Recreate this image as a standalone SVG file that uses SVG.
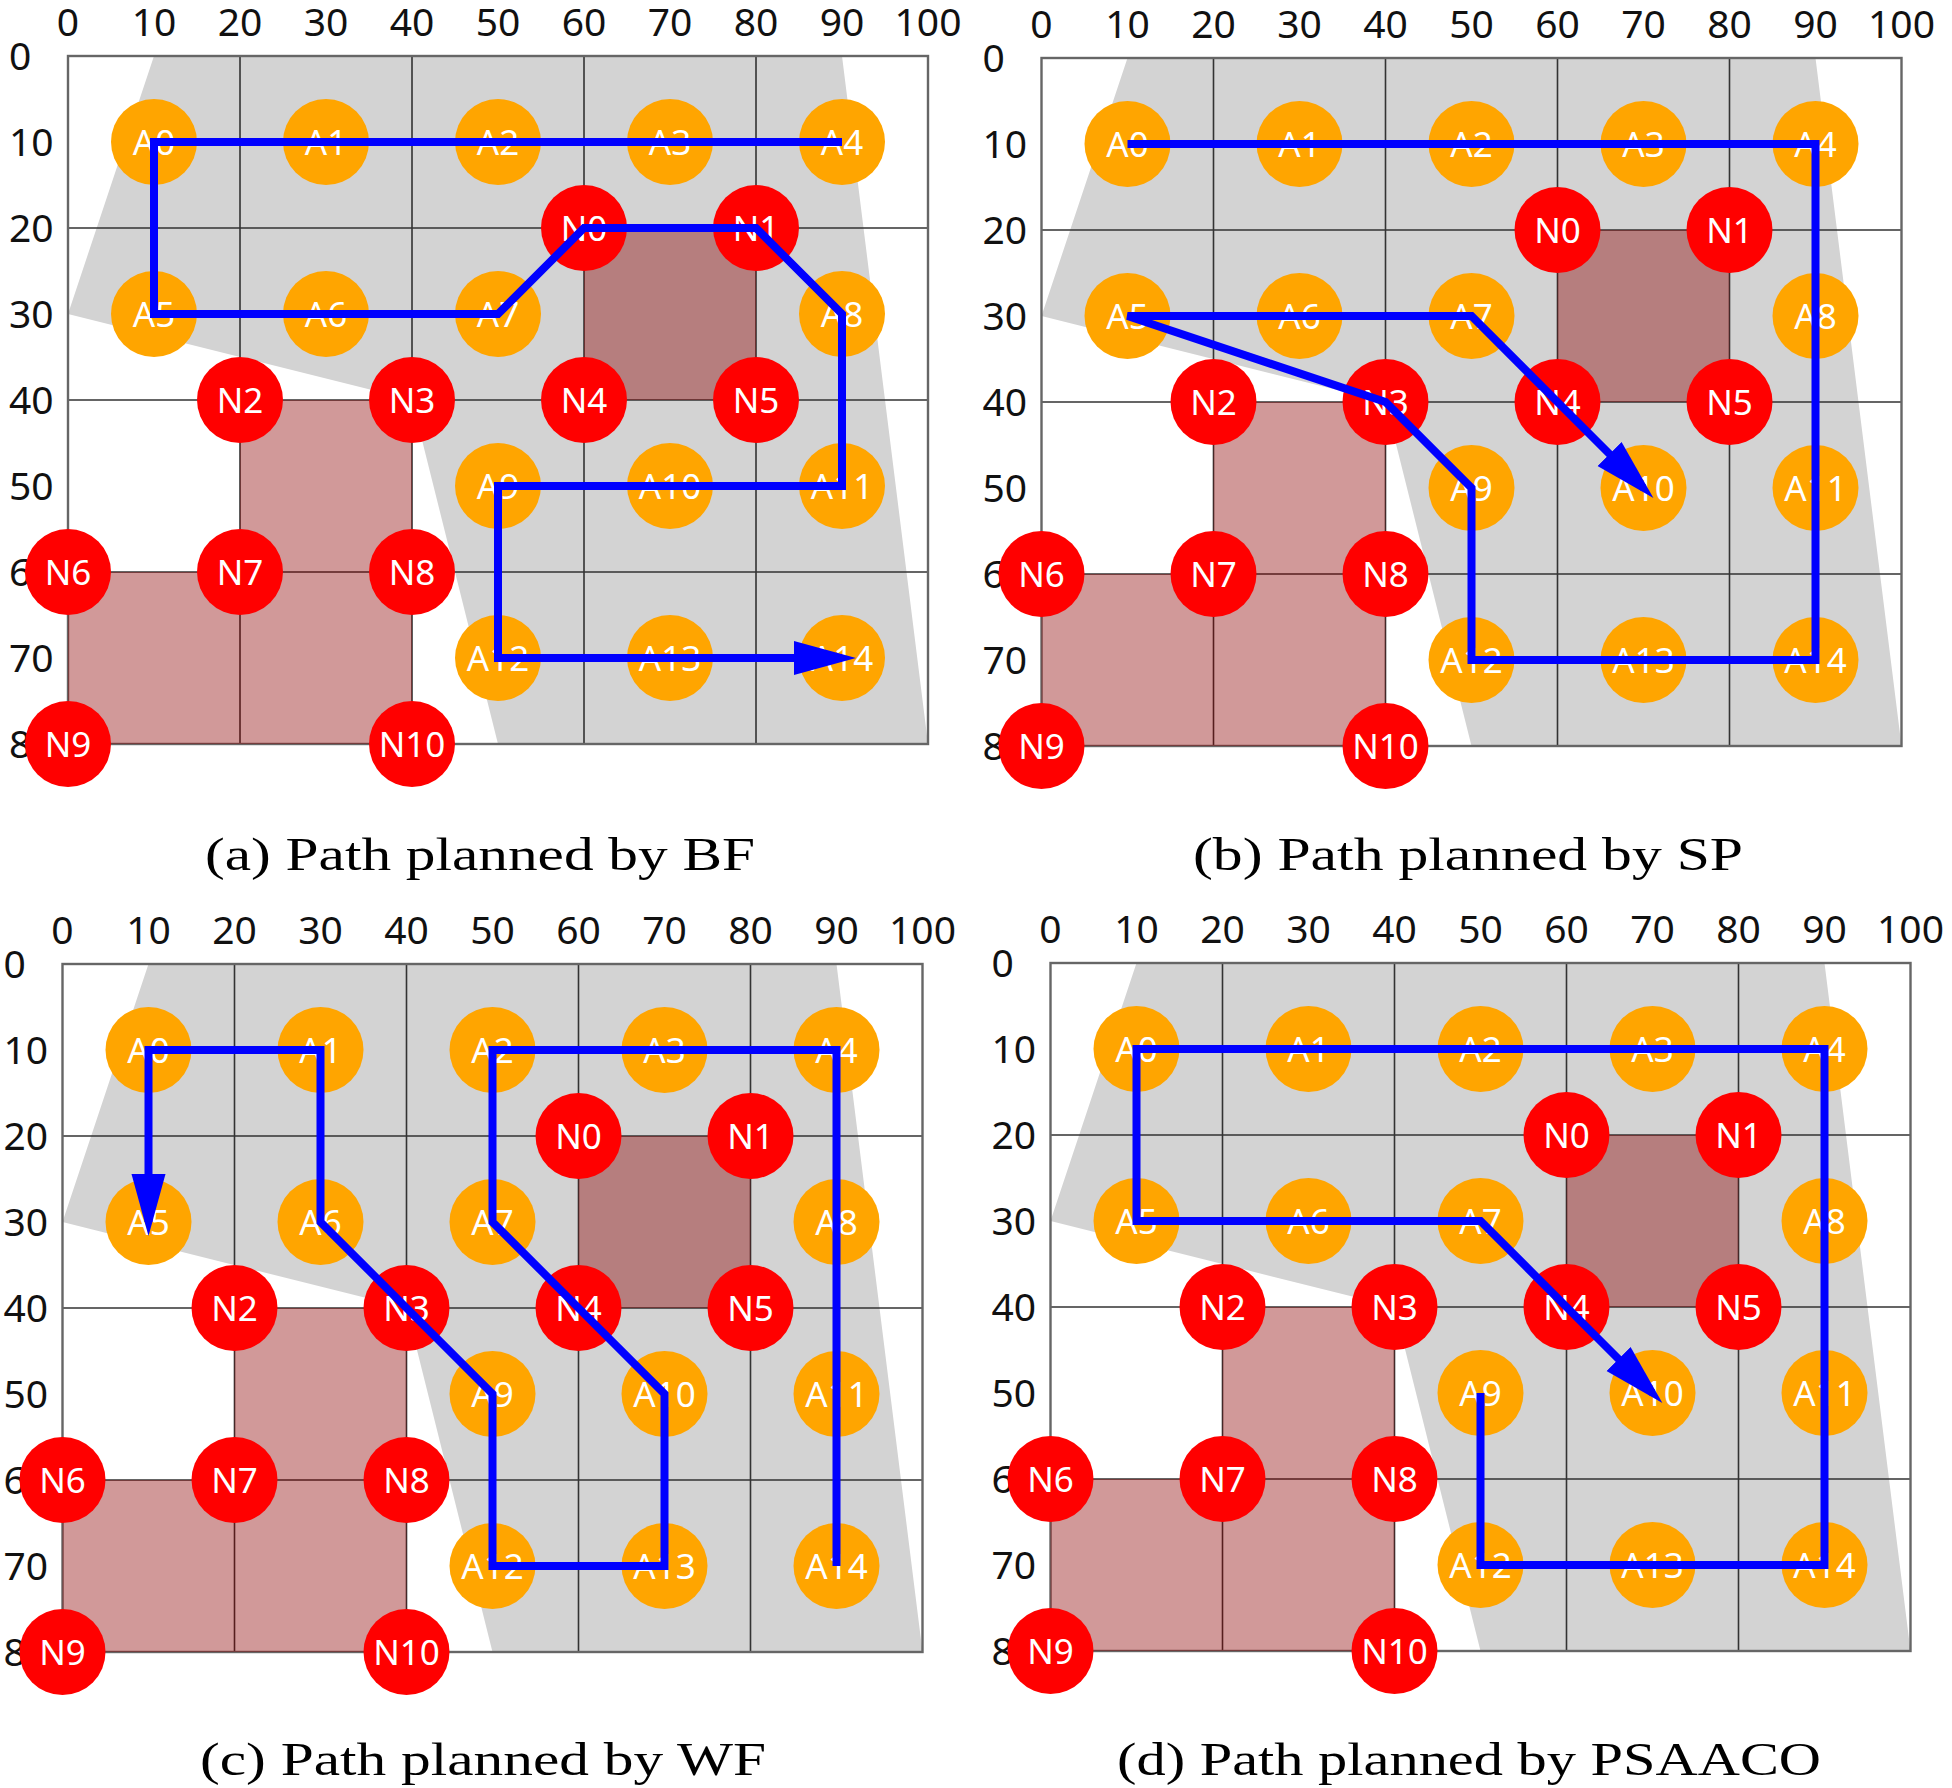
<svg xmlns="http://www.w3.org/2000/svg" width="1952" height="1788" viewBox="0 0 1952 1788">
<style>
.fov{fill:#d3d3d3}
.gl{stroke:#333;stroke-width:1.6;fill:none}
.bd{stroke:#666;stroke-width:2.4;fill:none}
.ob{fill:#8b0000;fill-opacity:0.4}
.tk{font-family:"Noto Sans","Open Sans","DejaVu Sans",sans-serif;font-size:39px;fill:#111}
.tx{text-anchor:middle}
.nd text{font-family:"Noto Sans","Open Sans","DejaVu Sans",sans-serif;font-size:35px;fill:#fff;text-anchor:middle}
.a circle{fill:#ffa500}
.n circle{fill:#ff0000}
.path{fill:none;stroke:#0000ff;stroke-width:8;stroke-linejoin:miter;marker-end:url(#ah)}
.cap{font-family:"Liberation Serif","Times New Roman",serif;font-size:47px;fill:#000}
</style>
<defs>
<marker id="ah" markerUnits="userSpaceOnUse" markerWidth="64" markerHeight="36" refX="48" refY="17" orient="auto"><path d="M0,0 L62,17 L0,34 Z" fill="#0000ff"/></marker>
<g id="bg">
<polygon class="fov" points="86,0 774,0 860,688 430,688 344,344 0,258"/>
<path class="gl" d="M172,0V688M344,0V688M516,0V688M688,0V688M0,172H860M0,344H860M0,516H860"/>
<rect class="bd" x="0" y="0" width="860" height="688"/>
<rect class="ob" x="516" y="172" width="172" height="172"/>
<rect class="ob" x="172" y="344" width="172" height="172"/>
<rect class="ob" x="0" y="516" width="344" height="172"/>
</g>
</defs>

<g id="panel-a" transform="translate(68,56)">
<use href="#bg"/>
<g class="tk tx"><text x="0" y="-20">0</text><text x="86" y="-20">10</text><text x="172" y="-20">20</text><text x="258" y="-20">30</text><text x="344" y="-20">40</text><text x="430" y="-20">50</text><text x="516" y="-20">60</text><text x="602" y="-20">70</text><text x="688" y="-20">80</text><text x="774" y="-20">90</text><text x="860" y="-20">100</text></g>
<g class="tk"><text x="-59" y="14">0</text><text x="-59" y="100">10</text><text x="-59" y="186">20</text><text x="-59" y="272">30</text><text x="-59" y="358">40</text><text x="-59" y="444">50</text><text x="-59" y="530">60</text><text x="-59" y="616">70</text><text x="-59" y="702">80</text></g>
<g id="a-nodes">
<g id="a-A0" class="nd a"><circle cx="86" cy="86" r="43"/><text x="86" y="99">A0</text></g>
<g id="a-A1" class="nd a"><circle cx="258" cy="86" r="43"/><text x="258" y="99">A1</text></g>
<g id="a-A2" class="nd a"><circle cx="430" cy="86" r="43"/><text x="430" y="99">A2</text></g>
<g id="a-A3" class="nd a"><circle cx="602" cy="86" r="43"/><text x="602" y="99">A3</text></g>
<g id="a-A4" class="nd a"><circle cx="774" cy="86" r="43"/><text x="774" y="99">A4</text></g>
<g id="a-A5" class="nd a"><circle cx="86" cy="258" r="43"/><text x="86" y="271">A5</text></g>
<g id="a-A6" class="nd a"><circle cx="258" cy="258" r="43"/><text x="258" y="271">A6</text></g>
<g id="a-A7" class="nd a"><circle cx="430" cy="258" r="43"/><text x="430" y="271">A7</text></g>
<g id="a-A8" class="nd a"><circle cx="774" cy="258" r="43"/><text x="774" y="271">A8</text></g>
<g id="a-A9" class="nd a"><circle cx="430" cy="430" r="43"/><text x="430" y="443">A9</text></g>
<g id="a-A10" class="nd a"><circle cx="602" cy="430" r="43"/><text x="602" y="443">A10</text></g>
<g id="a-A11" class="nd a"><circle cx="774" cy="430" r="43"/><text x="774" y="443">A11</text></g>
<g id="a-A12" class="nd a"><circle cx="430" cy="602" r="43"/><text x="430" y="615">A12</text></g>
<g id="a-A13" class="nd a"><circle cx="602" cy="602" r="43"/><text x="602" y="615">A13</text></g>
<g id="a-A14" class="nd a"><circle cx="774" cy="602" r="43"/><text x="774" y="615">A14</text></g>
<g id="a-N0" class="nd n"><circle cx="516" cy="172" r="43"/><text x="516" y="185">N0</text></g>
<g id="a-N1" class="nd n"><circle cx="688" cy="172" r="43"/><text x="688" y="185">N1</text></g>
<g id="a-N2" class="nd n"><circle cx="172" cy="344" r="43"/><text x="172" y="357">N2</text></g>
<g id="a-N3" class="nd n"><circle cx="344" cy="344" r="43"/><text x="344" y="357">N3</text></g>
<g id="a-N4" class="nd n"><circle cx="516" cy="344" r="43"/><text x="516" y="357">N4</text></g>
<g id="a-N5" class="nd n"><circle cx="688" cy="344" r="43"/><text x="688" y="357">N5</text></g>
<g id="a-N6" class="nd n"><circle cx="0" cy="516" r="43"/><text x="0" y="529">N6</text></g>
<g id="a-N7" class="nd n"><circle cx="172" cy="516" r="43"/><text x="172" y="529">N7</text></g>
<g id="a-N8" class="nd n"><circle cx="344" cy="516" r="43"/><text x="344" y="529">N8</text></g>
<g id="a-N9" class="nd n"><circle cx="0" cy="688" r="43"/><text x="0" y="701">N9</text></g>
<g id="a-N10" class="nd n"><circle cx="344" cy="688" r="43"/><text x="344" y="701">N10</text></g>
</g>
<g id="a-connectors"><polyline class="path" points="774,86 86,86 86,258 430,258 516,172 688,172 774,258 774,430 430,430 430,602 774,602"/></g>
</g>
<text class="cap" x="205" y="870" textLength="550" lengthAdjust="spacingAndGlyphs">(a) Path planned by BF</text>

<g id="panel-b" transform="translate(1041.5,58)">
<use href="#bg"/>
<g class="tk tx"><text x="0" y="-20">0</text><text x="86" y="-20">10</text><text x="172" y="-20">20</text><text x="258" y="-20">30</text><text x="344" y="-20">40</text><text x="430" y="-20">50</text><text x="516" y="-20">60</text><text x="602" y="-20">70</text><text x="688" y="-20">80</text><text x="774" y="-20">90</text><text x="860" y="-20">100</text></g>
<g class="tk"><text x="-59" y="14">0</text><text x="-59" y="100">10</text><text x="-59" y="186">20</text><text x="-59" y="272">30</text><text x="-59" y="358">40</text><text x="-59" y="444">50</text><text x="-59" y="530">60</text><text x="-59" y="616">70</text><text x="-59" y="702">80</text></g>
<g id="b-nodes">
<g id="b-A0" class="nd a"><circle cx="86" cy="86" r="43"/><text x="86" y="99">A0</text></g>
<g id="b-A1" class="nd a"><circle cx="258" cy="86" r="43"/><text x="258" y="99">A1</text></g>
<g id="b-A2" class="nd a"><circle cx="430" cy="86" r="43"/><text x="430" y="99">A2</text></g>
<g id="b-A3" class="nd a"><circle cx="602" cy="86" r="43"/><text x="602" y="99">A3</text></g>
<g id="b-A4" class="nd a"><circle cx="774" cy="86" r="43"/><text x="774" y="99">A4</text></g>
<g id="b-A5" class="nd a"><circle cx="86" cy="258" r="43"/><text x="86" y="271">A5</text></g>
<g id="b-A6" class="nd a"><circle cx="258" cy="258" r="43"/><text x="258" y="271">A6</text></g>
<g id="b-A7" class="nd a"><circle cx="430" cy="258" r="43"/><text x="430" y="271">A7</text></g>
<g id="b-A8" class="nd a"><circle cx="774" cy="258" r="43"/><text x="774" y="271">A8</text></g>
<g id="b-A9" class="nd a"><circle cx="430" cy="430" r="43"/><text x="430" y="443">A9</text></g>
<g id="b-A10" class="nd a"><circle cx="602" cy="430" r="43"/><text x="602" y="443">A10</text></g>
<g id="b-A11" class="nd a"><circle cx="774" cy="430" r="43"/><text x="774" y="443">A11</text></g>
<g id="b-A12" class="nd a"><circle cx="430" cy="602" r="43"/><text x="430" y="615">A12</text></g>
<g id="b-A13" class="nd a"><circle cx="602" cy="602" r="43"/><text x="602" y="615">A13</text></g>
<g id="b-A14" class="nd a"><circle cx="774" cy="602" r="43"/><text x="774" y="615">A14</text></g>
<g id="b-N0" class="nd n"><circle cx="516" cy="172" r="43"/><text x="516" y="185">N0</text></g>
<g id="b-N1" class="nd n"><circle cx="688" cy="172" r="43"/><text x="688" y="185">N1</text></g>
<g id="b-N2" class="nd n"><circle cx="172" cy="344" r="43"/><text x="172" y="357">N2</text></g>
<g id="b-N3" class="nd n"><circle cx="344" cy="344" r="43"/><text x="344" y="357">N3</text></g>
<g id="b-N4" class="nd n"><circle cx="516" cy="344" r="43"/><text x="516" y="357">N4</text></g>
<g id="b-N5" class="nd n"><circle cx="688" cy="344" r="43"/><text x="688" y="357">N5</text></g>
<g id="b-N6" class="nd n"><circle cx="0" cy="516" r="43"/><text x="0" y="529">N6</text></g>
<g id="b-N7" class="nd n"><circle cx="172" cy="516" r="43"/><text x="172" y="529">N7</text></g>
<g id="b-N8" class="nd n"><circle cx="344" cy="516" r="43"/><text x="344" y="529">N8</text></g>
<g id="b-N9" class="nd n"><circle cx="0" cy="688" r="43"/><text x="0" y="701">N9</text></g>
<g id="b-N10" class="nd n"><circle cx="344" cy="688" r="43"/><text x="344" y="701">N10</text></g>
</g>
<g id="b-connectors"><polyline class="path" points="86,86 774,86 774,602 430,602 430,430 344,344 86,258 430,258 516,344 602,430"/></g>
</g>
<text class="cap" x="1193" y="870" textLength="550" lengthAdjust="spacingAndGlyphs">(b) Path planned by SP</text>

<g id="panel-c" transform="translate(62.5,964)">
<use href="#bg"/>
<g class="tk tx"><text x="0" y="-20">0</text><text x="86" y="-20">10</text><text x="172" y="-20">20</text><text x="258" y="-20">30</text><text x="344" y="-20">40</text><text x="430" y="-20">50</text><text x="516" y="-20">60</text><text x="602" y="-20">70</text><text x="688" y="-20">80</text><text x="774" y="-20">90</text><text x="860" y="-20">100</text></g>
<g class="tk"><text x="-59" y="14">0</text><text x="-59" y="100">10</text><text x="-59" y="186">20</text><text x="-59" y="272">30</text><text x="-59" y="358">40</text><text x="-59" y="444">50</text><text x="-59" y="530">60</text><text x="-59" y="616">70</text><text x="-59" y="702">80</text></g>
<g id="c-nodes">
<g id="c-A0" class="nd a"><circle cx="86" cy="86" r="43"/><text x="86" y="99">A0</text></g>
<g id="c-A1" class="nd a"><circle cx="258" cy="86" r="43"/><text x="258" y="99">A1</text></g>
<g id="c-A2" class="nd a"><circle cx="430" cy="86" r="43"/><text x="430" y="99">A2</text></g>
<g id="c-A3" class="nd a"><circle cx="602" cy="86" r="43"/><text x="602" y="99">A3</text></g>
<g id="c-A4" class="nd a"><circle cx="774" cy="86" r="43"/><text x="774" y="99">A4</text></g>
<g id="c-A5" class="nd a"><circle cx="86" cy="258" r="43"/><text x="86" y="271">A5</text></g>
<g id="c-A6" class="nd a"><circle cx="258" cy="258" r="43"/><text x="258" y="271">A6</text></g>
<g id="c-A7" class="nd a"><circle cx="430" cy="258" r="43"/><text x="430" y="271">A7</text></g>
<g id="c-A8" class="nd a"><circle cx="774" cy="258" r="43"/><text x="774" y="271">A8</text></g>
<g id="c-A9" class="nd a"><circle cx="430" cy="430" r="43"/><text x="430" y="443">A9</text></g>
<g id="c-A10" class="nd a"><circle cx="602" cy="430" r="43"/><text x="602" y="443">A10</text></g>
<g id="c-A11" class="nd a"><circle cx="774" cy="430" r="43"/><text x="774" y="443">A11</text></g>
<g id="c-A12" class="nd a"><circle cx="430" cy="602" r="43"/><text x="430" y="615">A12</text></g>
<g id="c-A13" class="nd a"><circle cx="602" cy="602" r="43"/><text x="602" y="615">A13</text></g>
<g id="c-A14" class="nd a"><circle cx="774" cy="602" r="43"/><text x="774" y="615">A14</text></g>
<g id="c-N0" class="nd n"><circle cx="516" cy="172" r="43"/><text x="516" y="185">N0</text></g>
<g id="c-N1" class="nd n"><circle cx="688" cy="172" r="43"/><text x="688" y="185">N1</text></g>
<g id="c-N2" class="nd n"><circle cx="172" cy="344" r="43"/><text x="172" y="357">N2</text></g>
<g id="c-N3" class="nd n"><circle cx="344" cy="344" r="43"/><text x="344" y="357">N3</text></g>
<g id="c-N4" class="nd n"><circle cx="516" cy="344" r="43"/><text x="516" y="357">N4</text></g>
<g id="c-N5" class="nd n"><circle cx="688" cy="344" r="43"/><text x="688" y="357">N5</text></g>
<g id="c-N6" class="nd n"><circle cx="0" cy="516" r="43"/><text x="0" y="529">N6</text></g>
<g id="c-N7" class="nd n"><circle cx="172" cy="516" r="43"/><text x="172" y="529">N7</text></g>
<g id="c-N8" class="nd n"><circle cx="344" cy="516" r="43"/><text x="344" y="529">N8</text></g>
<g id="c-N9" class="nd n"><circle cx="0" cy="688" r="43"/><text x="0" y="701">N9</text></g>
<g id="c-N10" class="nd n"><circle cx="344" cy="688" r="43"/><text x="344" y="701">N10</text></g>
</g>
<g id="c-connectors"><polyline class="path" points="774,602 774,86 430,86 430,258 516,344 602,430 602,602 430,602 430,430 344,344 258,258 258,86 86,86 86,258"/></g>
</g>
<text class="cap" x="200" y="1775" textLength="566" lengthAdjust="spacingAndGlyphs">(c) Path planned by WF</text>

<g id="panel-d" transform="translate(1050.5,963)">
<use href="#bg"/>
<g class="tk tx"><text x="0" y="-20">0</text><text x="86" y="-20">10</text><text x="172" y="-20">20</text><text x="258" y="-20">30</text><text x="344" y="-20">40</text><text x="430" y="-20">50</text><text x="516" y="-20">60</text><text x="602" y="-20">70</text><text x="688" y="-20">80</text><text x="774" y="-20">90</text><text x="860" y="-20">100</text></g>
<g class="tk"><text x="-59" y="14">0</text><text x="-59" y="100">10</text><text x="-59" y="186">20</text><text x="-59" y="272">30</text><text x="-59" y="358">40</text><text x="-59" y="444">50</text><text x="-59" y="530">60</text><text x="-59" y="616">70</text><text x="-59" y="702">80</text></g>
<g id="d-nodes">
<g id="d-A0" class="nd a"><circle cx="86" cy="86" r="43"/><text x="86" y="99">A0</text></g>
<g id="d-A1" class="nd a"><circle cx="258" cy="86" r="43"/><text x="258" y="99">A1</text></g>
<g id="d-A2" class="nd a"><circle cx="430" cy="86" r="43"/><text x="430" y="99">A2</text></g>
<g id="d-A3" class="nd a"><circle cx="602" cy="86" r="43"/><text x="602" y="99">A3</text></g>
<g id="d-A4" class="nd a"><circle cx="774" cy="86" r="43"/><text x="774" y="99">A4</text></g>
<g id="d-A5" class="nd a"><circle cx="86" cy="258" r="43"/><text x="86" y="271">A5</text></g>
<g id="d-A6" class="nd a"><circle cx="258" cy="258" r="43"/><text x="258" y="271">A6</text></g>
<g id="d-A7" class="nd a"><circle cx="430" cy="258" r="43"/><text x="430" y="271">A7</text></g>
<g id="d-A8" class="nd a"><circle cx="774" cy="258" r="43"/><text x="774" y="271">A8</text></g>
<g id="d-A9" class="nd a"><circle cx="430" cy="430" r="43"/><text x="430" y="443">A9</text></g>
<g id="d-A10" class="nd a"><circle cx="602" cy="430" r="43"/><text x="602" y="443">A10</text></g>
<g id="d-A11" class="nd a"><circle cx="774" cy="430" r="43"/><text x="774" y="443">A11</text></g>
<g id="d-A12" class="nd a"><circle cx="430" cy="602" r="43"/><text x="430" y="615">A12</text></g>
<g id="d-A13" class="nd a"><circle cx="602" cy="602" r="43"/><text x="602" y="615">A13</text></g>
<g id="d-A14" class="nd a"><circle cx="774" cy="602" r="43"/><text x="774" y="615">A14</text></g>
<g id="d-N0" class="nd n"><circle cx="516" cy="172" r="43"/><text x="516" y="185">N0</text></g>
<g id="d-N1" class="nd n"><circle cx="688" cy="172" r="43"/><text x="688" y="185">N1</text></g>
<g id="d-N2" class="nd n"><circle cx="172" cy="344" r="43"/><text x="172" y="357">N2</text></g>
<g id="d-N3" class="nd n"><circle cx="344" cy="344" r="43"/><text x="344" y="357">N3</text></g>
<g id="d-N4" class="nd n"><circle cx="516" cy="344" r="43"/><text x="516" y="357">N4</text></g>
<g id="d-N5" class="nd n"><circle cx="688" cy="344" r="43"/><text x="688" y="357">N5</text></g>
<g id="d-N6" class="nd n"><circle cx="0" cy="516" r="43"/><text x="0" y="529">N6</text></g>
<g id="d-N7" class="nd n"><circle cx="172" cy="516" r="43"/><text x="172" y="529">N7</text></g>
<g id="d-N8" class="nd n"><circle cx="344" cy="516" r="43"/><text x="344" y="529">N8</text></g>
<g id="d-N9" class="nd n"><circle cx="0" cy="688" r="43"/><text x="0" y="701">N9</text></g>
<g id="d-N10" class="nd n"><circle cx="344" cy="688" r="43"/><text x="344" y="701">N10</text></g>
</g>
<g id="d-connectors"><polyline class="path" points="430,430 430,602 774,602 774,86 86,86 86,258 430,258 516,344 602,430"/></g>
</g>
<text class="cap" x="1117" y="1775" textLength="704" lengthAdjust="spacingAndGlyphs">(d) Path planned by PSAACO</text>
</svg>
